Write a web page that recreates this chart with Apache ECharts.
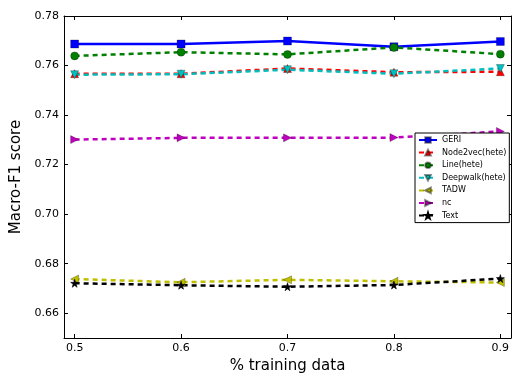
<!DOCTYPE html>
<html>
<head>
<meta charset="utf-8">
<script src="https://cdn.jsdelivr.net/npm/echarts@6/dist/echarts.min.js"></script>
<style>
  html, body { margin: 0; padding: 0; background: #fff; }
  #chart { width: 512px; height: 375px; }
</style>
</head>
<body>
<div id="chart"></div>
<script>
// -- Data --
const xValues = [0.5, 0.6, 0.7, 0.8, 0.9];
const xTicks = [0.5, 0.6, 0.7, 0.8, 0.9];
const yTicks = [0.66, 0.68, 0.70, 0.72, 0.74, 0.76, 0.78];

const geri = [0.7687, 0.7687, 0.7699, 0.7676, 0.7697];
const node2vec = [0.7567, 0.7567, 0.7588, 0.7573, 0.7575];
const lineHete = [0.7639, 0.7654, 0.7645, 0.7673, 0.7646];
const deepwalk = [0.7563, 0.7565, 0.7583, 0.7567, 0.7588];
const tadw = [0.6738, 0.6725, 0.6735, 0.6729, 0.6724];
const nc = [0.7301, 0.7308, 0.7308, 0.7309, 0.7334];
const textRep = [0.6721, 0.6713, 0.6707, 0.6714, 0.6740];

const STAR = 'path://M50,0 L61,35 L98,35 L68,57 L79,91 L50,70 L21,91 L32,57 L2,35 L39,35 Z';
const FONT = 'DejaVu Sans';

function pts(ys) {
  return xValues.map((x, i) => [x, ys[i]]);
}

function makeSeries(name, ys, color, symbol, opts = {}) {
  return {
    name,
    type: 'line',
    data: pts(ys),
    symbol,
    symbolSize: opts.size || 8,
    symbolRotate: opts.rotate || 0,
    showAllSymbol: true,
    animation: false,
    lineStyle: { color, width: 2.5, type: opts.solid ? 'solid' : [5, 4] },
    itemStyle: { color, borderColor: opts.edge || 'rgba(0,0,0,0.45)', borderWidth: 0.6 },
    emphasis: { disabled: true }
  };
}

const chart = echarts.init(document.getElementById('chart'), null, { renderer: 'canvas' });

const frameAxis = {
  axisLine: { show: true, onZero: false, lineStyle: { color: '#000', width: 1 } },
  splitLine: { show: false }
};

chart.setOption({
  backgroundColor: '#fff',
  textStyle: { fontFamily: FONT },
  grid: { left: 64, right: 1, top: 16, bottom: 37, outerBoundsMode: 'none', containLabel: false },
  xAxis: [
    {
      type: 'value', min: 0.49, max: 0.91,
      ...frameAxis,
      axisTick: { show: true, inside: true, length: 4, customValues: xTicks, lineStyle: { color: '#000' } },
      axisLabel: { customValues: xTicks, color: '#000', fontSize: 11, margin: 5, formatter: v => v.toFixed(1) },
      name: '% training data', nameLocation: 'middle', nameGap: 21,
      nameTextStyle: { fontSize: 15, color: '#000', fontFamily: FONT }
    },
    {
      type: 'value', min: 0.49, max: 0.91, position: 'top',
      ...frameAxis,
      axisTick: { show: true, inside: true, length: 4, customValues: xTicks, lineStyle: { color: '#000' } },
      axisLabel: { show: false }
    }
  ],
  yAxis: [
    {
      type: 'value', min: 0.65, max: 0.78,
      ...frameAxis,
      axisTick: { show: true, inside: true, length: 4, customValues: yTicks, lineStyle: { color: '#000' } },
      axisLabel: { customValues: yTicks, color: '#000', fontSize: 11, margin: 5, formatter: v => v.toFixed(2) },
      name: 'Macro-F1 score', nameLocation: 'middle', nameGap: 32,
      nameTextStyle: { fontSize: 15, color: '#000', fontFamily: FONT }
    },
    {
      type: 'value', min: 0.65, max: 0.78, position: 'right',
      ...frameAxis,
      axisTick: { show: true, inside: true, length: 4, customValues: yTicks, lineStyle: { color: '#000' } },
      axisLabel: { show: false }
    }
  ],
  legend: {
    orient: 'vertical',
    left: 415, top: 133,
    backgroundColor: '#fff',
    borderColor: '#000', borderWidth: 1, borderRadius: 0,
    padding: [3, 3, 3, 3],
    itemWidth: 18, itemHeight: 7, itemGap: 4.6,
    textStyle: { fontSize: 8, color: '#000', fontFamily: FONT },
    data: ['GERI', 'Node2vec(hete)', 'Line(hete)', 'Deepwalk(hete)', 'TADW', 'nc', 'Text']
  },
  series: [
    makeSeries('GERI', geri, '#0000ff', 'rect', { solid: true, size: 8 }),
    makeSeries('Node2vec(hete)', node2vec, '#ff0000', 'triangle', { size: 8 }),
    makeSeries('Line(hete)', lineHete, '#008000', 'circle', { size: 8 }),
    makeSeries('Deepwalk(hete)', deepwalk, '#00bfbf', 'triangle', { size: 8, rotate: 180 }),
    makeSeries('TADW', tadw, '#bfbf00', 'triangle', { size: 8, rotate: 90 }),
    makeSeries('nc', nc, '#bf00bf', 'triangle', { size: 8, rotate: -90 }),
    makeSeries('Text', textRep, '#000000', STAR, { size: 8, edge: '#000' })
  ]
});
</script>
</body>
</html>
